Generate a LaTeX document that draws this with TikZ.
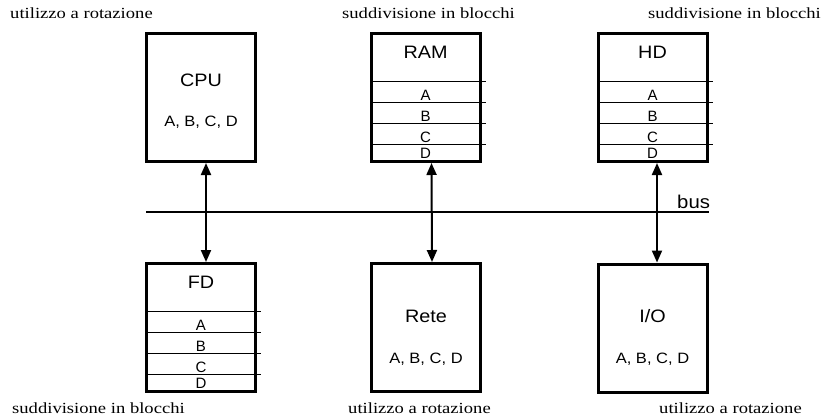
\documentclass[tikz,border=0pt]{standalone}
\usepackage{fontspec}
\usetikzlibrary{calc,arrows.meta}
\newfontfamily\boxfont[FakeStretch=1.1]{Liberation Sans}
\newfontfamily\cellfont{Liberation Sans}
\newfontfamily\labfont[FakeStretch=1.2]{Liberation Serif}
\tikzset{
  unit/.style={draw, line width=3pt, minimum width=109pt, minimum height=128pt, inner sep=0pt},
  title/.style={font=\boxfont\fontsize{18}{18}\selectfont, inner sep=0pt},
  items/.style={font=\boxfont\fontsize{15}{15}\selectfont, inner sep=0pt},
  cell/.style={font=\cellfont\fontsize{15}{15}\selectfont, inner sep=0pt, anchor=base},
  note/.style={font=\labfont\fontsize{15.5}{15.5}\selectfont, inner sep=0pt, anchor=base west},
  sep/.style={line width=0.9pt},
  link/.style={line width=2pt, {Triangle[width=10pt,length=12pt]}-{Triangle[width=10pt,length=12pt]}},
}
\begin{document}
\begin{tikzpicture}[x=1pt,y=-1pt]
\useasboundingbox (0,0) rectangle (833,418);

% processing units and storage units
\node[unit] (cpu)  at (201,97.5)   {};
\node[unit] (ram)  at (425.5,97.5) {};
\node[unit] (hd)   at (652.5,97.5) {};
\node[unit] (fd)   at (201,327.5)  {};
\node[unit] (rete) at (426,327.5)  {};
\node[unit] (io)   at (652.5,328)  {};

% resources shared in turn
\node[title] (cpuT) at ($(cpu.north)+(0,48)$) {CPU};
\node[items] (cpuL) at ($(cpu.north)+(0,90)$) {A, B, C, D};
\node[title] (reteT) at ($(rete.north)+(0,54)$) {Rete};
\node[items] (reteL) at ($(rete.north)+(0,97)$) {A, B, C, D};
\node[title] (ioT) at ($(io.north)+(0,54)$) {I/O};
\node[items] (ioL) at ($(io.north)+(0,97)$) {A, B, C, D};

% resources split into blocks
\foreach \u/\t in {ram/RAM, hd/HD, fd/FD}{
  \node[title] (\u T) at ($(\u.north)+(0,20)$) {\t};
  \foreach \k in {0,1,2,3}{
    \draw[sep] ($(\u.north west)+(1.5,{49+21*\k})$) -- ($(\u.north east)+(4,{49+21*\k})$);
  }
  \foreach \l/\b in {A/68.5, B/89.5, C/110.5, D/126.5}{
    \node[cell] (\u\l) at ($(\u.north)+(0,\b)$) {\l};
  }
}

% bus
\coordinate (busL) at (146,212);
\coordinate (busR) at (709,212);
\draw[line width=2pt] (busL) -- (busR);
\node[font=\boxfont\fontsize{18.5}{18.5}\selectfont, inner sep=0pt, anchor=base west] (busT) at (677,208) {bus};

% connections through the bus
\draw[link] ([xshift=5pt]cpu.south) -- ([xshift=5pt]fd.north);
\draw[link] ([xshift=6pt]ram.south) -- ([xshift=6pt]rete.north);
\draw[link] ([xshift=4.5pt]hd.south) -- ([xshift=4.5pt]io.north);

% captions
\node[note] (n1) at (10,18.5)  {utilizzo a rotazione};
\node[note] (n2) at (342,18.5) {suddivisione in blocchi};
\node[note] (n3) at (648,18.5) {suddivisione in blocchi};
\node[note] (n4) at (12,413)   {suddivisione in blocchi};
\node[note] (n5) at (348,413)  {utilizzo a rotazione};
\node[note] (n6) at (659,413)  {utilizzo a rotazione};
\end{tikzpicture}
\end{document}
